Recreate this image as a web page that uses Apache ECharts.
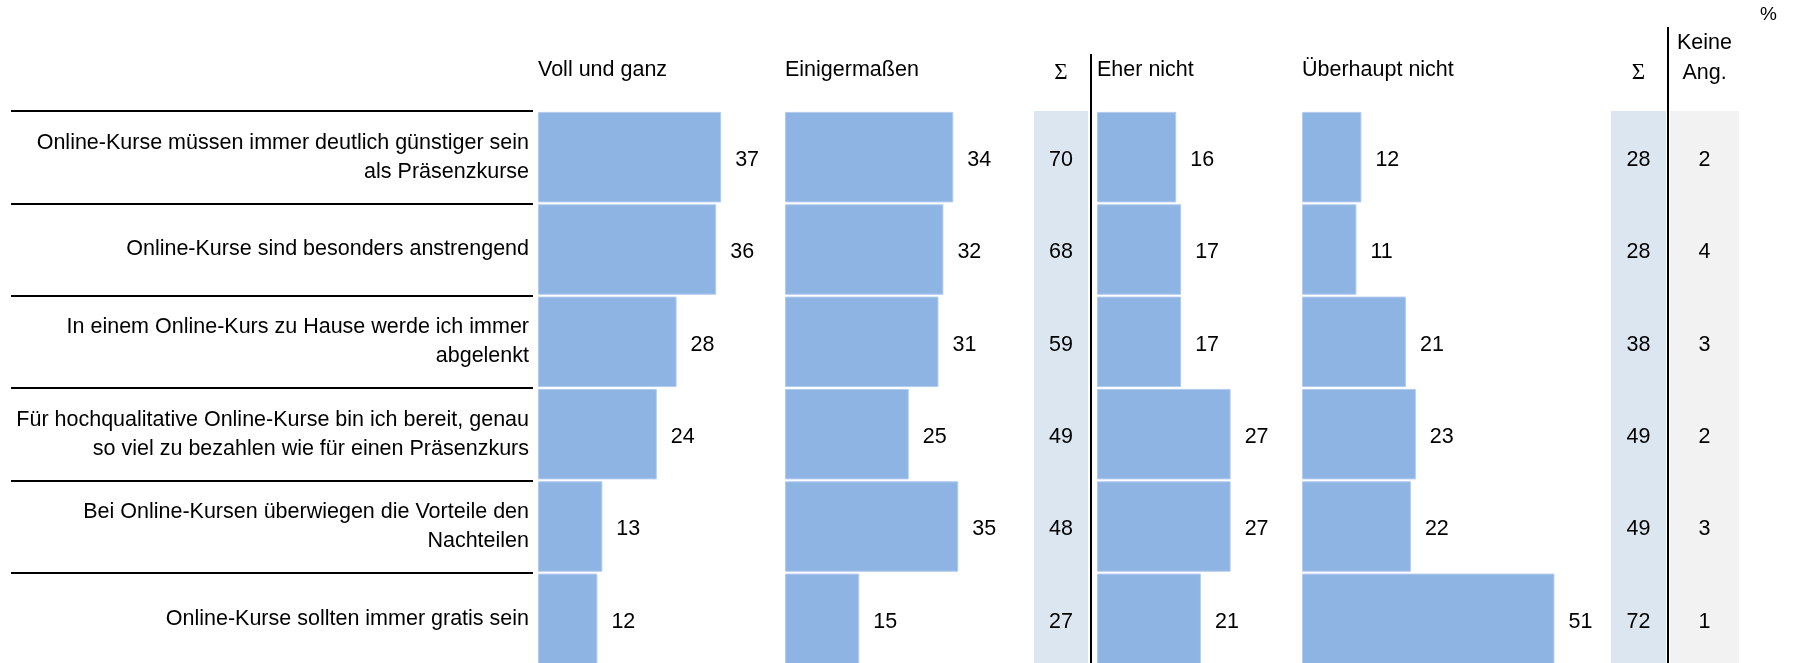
<!DOCTYPE html>
<html>
<head>
<meta charset="utf-8">
<script src="https://cdn.jsdelivr.net/npm/echarts@6/dist/echarts.min.js"></script>
<style>
  html, body { margin: 0; padding: 0; background: #fff; }
  #chart { width: 1795px; height: 663px; }
</style>
</head>
<body>
<div id="chart"></div>
<script>
// Daten (%)
var categories = [
  'Online-Kurse müssen immer deutlich günstiger sein\nals Präsenzkurse',
  'Online-Kurse sind besonders anstrengend',
  'In einem Online-Kurs zu Hause werde ich immer\nabgelenkt',
  'Für hochqualitative Online-Kurse bin ich bereit, genau\nso viel zu bezahlen wie für einen Präsenzkurs',
  'Bei Online-Kursen überwiegen die Vorteile den\nNachteilen',
  'Online-Kurse sollten immer gratis sein'
];
var vollUndGanz     = [37, 36, 28, 24, 13, 12];
var einigermassen   = [34, 32, 31, 25, 35, 15];
var summeZustimmung = [70, 68, 59, 49, 48, 27];
var eherNicht       = [16, 17, 17, 27, 27, 21];
var ueberhauptNicht = [12, 11, 21, 23, 22, 51];
var summeAblehnung  = [28, 28, 38, 49, 49, 72];
var keineAngabe     = [2, 4, 3, 2, 3, 1];
var barHeaders = ['Voll und ganz', 'Einigermaßen', 'Eher nicht', 'Überhaupt nicht'];
var sumHeader = 'Σ';
var naHeader = 'Keine\nAng.';

var FONT = 'Liberation Sans, Arial, sans-serif';
var FS = 21.5;
var BAR = '#8EB4E3';
var TOP = 111;
var H = 554;    // letzte Zeile reicht knapp über den unteren Rand
var PX = 4.95;  // Pixel je Prozentpunkt

// Spaltenlayout
var barPanels = [
  { left: 538,  max: 50, data: vollUndGanz },
  { left: 785,  max: 50, data: einigermassen },
  { left: 1097, max: 40, data: eherNicht },
  { left: 1302, max: 60, data: ueberhauptNicht }
];
var textCols = [
  { left: 1034, width: 54, bg: '#DCE6F1', data: summeZustimmung, head: sumHeader },
  { left: 1611, width: 55, bg: '#DCE6F1', data: summeAblehnung, head: sumHeader },
  { left: 1670, width: 69, bg: '#F2F2F2', data: keineAngabe, head: naHeader }
];

var grid = [], xAxis = [], yAxis = [], series = [], graphic = [];

function catAxis(idx, extra) {
  return Object.assign({
    type: 'category', gridIndex: idx, data: categories, inverse: true,
    axisLine: { show: false }, axisTick: { show: false },
    axisLabel: { show: false }, splitLine: { show: false }
  }, extra || {});
}

// Spalte mit Trennlinien
grid.push({ left: 11, width: 522, top: TOP, height: H, outerBoundsMode: 'none' });
xAxis.push({ type: 'value', gridIndex: 0, show: false });
yAxis.push(catAxis(0, { splitLine: { show: true, lineStyle: { color: '#000', width: 2 } } }));

barPanels.forEach(function (p, k) {
  var idx = grid.length;
  grid.push({ left: p.left, width: p.max * PX, top: TOP, height: H, outerBoundsMode: 'none' });
  xAxis.push({ type: 'value', gridIndex: idx, min: 0, max: p.max, show: false });
  yAxis.push(catAxis(idx, k === 0 ? {
    axisLabel: {
      show: true, margin: 9, color: '#000', fontFamily: FONT, fontSize: FS,
      lineHeight: 29, align: 'right', padding: [7, 0, 0, 0]
    }
  } : {}));
  series.push({
    type: 'bar', xAxisIndex: idx, yAxisIndex: idx, data: p.data,
    barCategoryGap: '2%', silent: true,
    itemStyle: { color: BAR, borderColor: '#B3CCEE', borderWidth: 1 },
    label: { show: true, position: 'right', distance: 14, offset: [0, 3], color: '#000', fontFamily: FONT, fontSize: FS }
  });
  graphic.push({
    type: 'text', left: p.left, top: 59, silent: true,
    style: { text: barHeaders[k], fill: '#000', font: FS + 'px ' + FONT }
  });
});

textCols.forEach(function (c) {
  var idx = grid.length;
  grid.push({
    left: c.left, width: c.width, top: TOP, height: H, outerBoundsMode: 'none',
    show: true, backgroundColor: c.bg, borderWidth: 0
  });
  xAxis.push({
    type: 'category', gridIndex: idx, data: [c.head], position: 'top',
    axisLine: { show: false }, axisTick: { show: false }, splitLine: { show: false },
    axisLabel: {
      margin: 23, color: '#000', lineHeight: 30,
      fontSize: c.head === sumHeader ? 23 : FS,
      fontFamily: c.head === sumHeader ? 'Liberation Serif, serif' : FONT
    }
  });
  yAxis.push(catAxis(idx));
  series.push({
    type: 'scatter', xAxisIndex: idx, yAxisIndex: idx, symbolSize: 0, silent: true,
    itemStyle: { opacity: 1 },
    data: c.data.map(function (v, i) { return [0, i, v]; }),
    label: {
      show: true, position: 'inside', offset: [0, 3], color: '#000', opacity: 1,
      fontFamily: FONT, fontSize: FS, textBorderWidth: 0,
      formatter: function (p) { return p.value[2]; }
    }
  });
});

// senkrechte Trennlinien und Einheit
graphic.push({ type: 'line', silent: true, shape: { x1: 1091, y1: 54, x2: 1091, y2: 663 }, style: { stroke: '#000', lineWidth: 2 } });
graphic.push({ type: 'line', silent: true, shape: { x1: 1668, y1: 27, x2: 1668, y2: 663 }, style: { stroke: '#000', lineWidth: 2 } });
graphic.push({ type: 'text', left: 1760, top: 5, silent: true, style: { text: '%', fill: '#000', font: '19px ' + FONT } });

var chart = echarts.init(document.getElementById('chart'));
chart.setOption({
  animation: false,
  grid: grid,
  xAxis: xAxis,
  yAxis: yAxis,
  series: series,
  graphic: graphic
});
</script>
</body>
</html>
